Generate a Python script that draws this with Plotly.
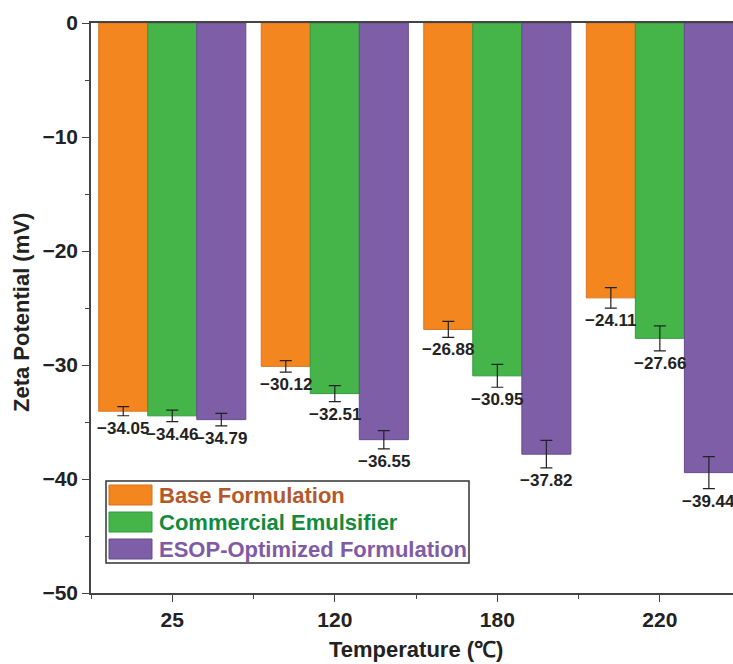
import plotly.graph_objects as go

# Zeta potential of three formulations after heating at different temperatures
temperatures = ["25", "120", "180", "220"]
series_names = ["Base Formulation", "Commercial Emulsifier", "ESOP-Optimized Formulation"]
base_values = [-34.05, -30.12, -26.88, -24.11]
commercial_values = [-34.46, -32.51, -30.95, -27.66]
esop_values = [-34.79, -36.55, -37.82, -39.44]
base_errors = [0.4, 0.5, 0.7, 0.9]
commercial_errors = [0.5, 0.7, 1.0, 1.1]
esop_errors = [0.55, 0.8, 1.2, 1.4]

fills = ["#F4861F", "#45B54A", "#7F5EA8"]
edges = ["#D9731E", "#2F9A3C", "#654C8F"]
legend_text_colors = ["#B4582A", "#138B3C", "#7F5BA6"]

W, H = 733, 664
L, R, T, B = 91, 0, 23, 71
PW, PH = W - L - R, H - T - B
FONT = "Liberation Sans, Arial, Helvetica, sans-serif"
INK = "#222222"

values = [base_values, commercial_values, esop_values]
errors = [base_errors, commercial_errors, esop_errors]
xpos = list(range(len(temperatures)))
GROUP_W = 0.905

fig = go.Figure()
for name, vals, errs, fc, ec in zip(series_names, values, errors, fills, edges):
    fig.add_trace(go.Bar(
        x=xpos, y=vals, name=name,
        marker=dict(color=fc, line=dict(color=ec, width=1)),
        error_y=dict(type="data", array=errs, visible=True,
                     color=INK, thickness=1.2, width=6),
        showlegend=False,
    ))

fig.update_layout(
    barmode="group", bargap=1 - GROUP_W, bargroupgap=0,
    width=W, height=H,
    margin=dict(l=L, r=R, t=T, b=B),
    plot_bgcolor="white", paper_bgcolor="white",
    font=dict(family=FONT, color=INK),
    showlegend=False,
)

fig.update_xaxes(
    range=[-0.5, 3.45],
    tickmode="array", tickvals=xpos, ticktext=temperatures,
    ticks="outside", ticklen=7, tickwidth=1.2, tickcolor="#444444",
    minor=dict(tickmode="linear", tick0=-0.5, dtick=1, ticks="outside",
               ticklen=4, tickwidth=1.2, tickcolor="#444444"),
    showline=True, linecolor="#444444", linewidth=1.5, mirror=True,
    showgrid=False, zeroline=False,
    tickfont=dict(size=21, family=FONT, color=INK, weight="bold"),
)
fig.update_yaxes(
    range=[-50, 0], dtick=10,
    ticks="outside", ticklen=7, tickwidth=1.2, tickcolor="#444444",
    minor=dict(dtick=5, ticks="outside", ticklen=4, tickwidth=1.2, tickcolor="#444444"),
    showline=True, linecolor="#444444", linewidth=1.5,
    showgrid=False, zeroline=False,
    tickfont=dict(size=21, family=FONT, color=INK, weight="bold"),
)

# Value labels below each error bar
for i, (vals, errs) in enumerate(zip(values, errors)):
    for j, (v, e) in enumerate(zip(vals, errs)):
        offset = (i - 1) * GROUP_W / 3
        fig.add_annotation(
            x=xpos[j] + offset, y=v - e, xref="x", yref="y",
            text=f"{v:.2f}".replace("-", "\u2212"),
            showarrow=False, yanchor="top", yshift=-1,
            font=dict(size=17, family=FONT, color=INK, weight="bold"),
        )


def px_x(p):
    return (p - L) / PW


def px_y(p):
    return 1 - (p - T) / PH


# Axis titles
fig.add_annotation(
    x=px_x(416), y=px_y(649), xref="paper", yref="paper",
    xanchor="center", yanchor="middle",
    text="Temperature (\u2103)", showarrow=False,
    font=dict(size=22, family=FONT, color=INK, weight="bold"),
)
fig.add_annotation(
    x=px_x(21), y=px_y(313), xref="paper", yref="paper",
    xanchor="center", yanchor="middle",
    text="Zeta Potential (mV)", showarrow=False, textangle=-90,
    font=dict(size=22, family=FONT, color=INK, weight="bold"),
)

# Legend with wide swatches and coloured labels
fig.add_shape(type="rect", xref="paper", yref="paper",
              x0=px_x(106), x1=px_x(469), y0=px_y(481), y1=px_y(563),
              line=dict(color="#333333", width=1.5), fillcolor="white")
swatch_tops = [485, 512, 539]
for name, fc, ec, tc, top in zip(series_names, fills, edges, legend_text_colors, swatch_tops):
    fig.add_shape(type="rect", xref="paper", yref="paper",
                  x0=px_x(109), x1=px_x(152), y0=px_y(top), y1=px_y(top + 20),
                  line=dict(color=ec, width=1), fillcolor=fc)
    fig.add_annotation(
        x=px_x(157), y=px_y(top + 10), xref="paper", yref="paper",
        text=name, showarrow=False, xanchor="left", yanchor="middle",
        font=dict(size=22, family=FONT, color=tc, weight="bold"),
    )

fig.write_html("out.html")
